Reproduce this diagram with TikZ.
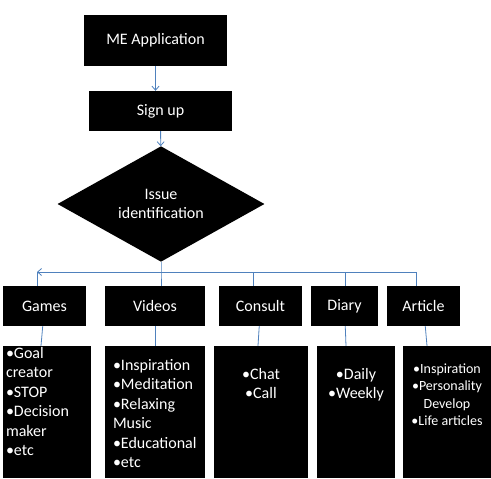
\documentclass[tikz,border=0pt]{standalone}
\usepackage{fontspec}
\setmainfont{Carlito}
\usepackage{tikz}
\usetikzlibrary{shapes.geometric,arrows.meta}
\definecolor{linkblue}{HTML}{4F81BD}

\begin{document}
\begin{tikzpicture}[x=1pt, y=-1pt,
    box/.style={fill=black, text=white, inner sep=0pt, align=center,
      font=\fontsize{16}{19.5}\selectfont},
    listbox/.style={fill=black, inner sep=0pt},
    listtext/.style={text=white, inner sep=0pt,
      font=\fontsize{16}{19.5}\selectfont},
    link/.style={draw=linkblue, line width=0.8pt},
    flow/.style={link, -{Straight Barb[length=4pt, width=7pt]}}]
  \useasboundingbox (0,0) rectangle (491,479);
  % top part
  \node[box, minimum width=143pt, minimum height=51pt] (app)  at (155.5, 40.5) {ME Application};
  \node[box, minimum width=143pt, minimum height=40pt] (sign) at (160.5, 111)  {Sign up};
  \node[box, diamond, minimum width=207pt, minimum height=104pt] (issue) at (161, 204) {Issue\\identification};
  \draw[flow] (app) -- (app |- sign.north);
  \draw[flow] (sign) -- (issue);
  % menu row
  \node[box, minimum width=83pt,  minimum height=40pt] (games)   at (44.5, 306)  {Games};
  \node[box, minimum width=100pt, minimum height=40pt] (videos)  at (155, 306)   {Videos};
  \node[box, minimum width=83pt,  minimum height=40pt] (consult) at (260.5, 306) {Consult};
  \node[box, minimum width=67pt,  minimum height=40pt] (diary)   at (344.5, 306) {Diary};
  \node[box, minimum width=73pt,  minimum height=40pt] (article) at (423.5, 306) {Article};
  % branches
  \coordinate (split)     at (161, 272);
  \coordinate (gamesin)   at (37, 272);
  \coordinate (consultin) at (253, 272);
  \coordinate (diaryin)   at (345, 272);
  \coordinate (articlein) at (416, 272);
  \draw[link] (issue) -- (split) -- (split |- videos.north);
  \draw[flow] (split) -- (gamesin);
  \draw[link] (gamesin) -- (gamesin |- games.north);
  \draw[link] (split) -- (articlein) -- (articlein |- article.north);
  \draw[link] (consultin) -- (consultin |- consult.north);
  \draw[link] (diaryin) -- (diaryin |- diary.north);
  % lists
  \node[listbox, minimum width=88pt,  minimum height=132pt] (gameslist)   at (47, 412)  {};
  \node[listbox, minimum width=100pt, minimum height=132pt] (videoslist)  at (155, 412) {};
  \node[listbox, minimum width=94pt,  minimum height=132pt] (consultlist) at (261, 412) {};
  \node[listbox, minimum width=78pt,  minimum height=132pt] (diarylist)   at (356, 412) {};
  \node[listbox, minimum width=88pt,  minimum height=132pt] (articlelist) at (447, 412) {};
  \node[listtext, anchor=north west, align=left] (gamestext) at ([shift={(3,1)}]gameslist.north west)
    {•Goal\\creator\\•STOP\\•Decision\\maker\\•etc};
  \node[listtext, anchor=north west, align=left] (videostext) at ([shift={(8,13)}]videoslist.north west)
    {•Inspiration\\•Meditation\\•Relaxing\\Music\\•Educational\\•etc};
  \node[listtext, anchor=north, align=center] (consulttext) at ([shift={(0,22)}]consultlist.north)
    {•Chat\\•Call};
  \node[listtext, anchor=north, align=center] (diarytext) at ([shift={(0,22)}]diarylist.north)
    {•Daily\\•Weekly};
  \node[listtext, anchor=north, align=center, font=\fontsize{14}{17.3}\selectfont] (articletext)
    at ([shift={(0,18)}]articlelist.north) {•Inspiration\\•Personality\\Develop\\•Life articles};
  \draw[link] (games) -- ([xshift=-6pt]gameslist.north);
  \draw[link] (videos) -- (videoslist);
  \draw[link] (consult) -- ([xshift=-3pt]consultlist.north);
  \draw[link] (diary) -- ([xshift=-10pt]diarylist.north);
  \draw[link] (article) -- ([xshift=-20pt]articlelist.north);
\end{tikzpicture}
\end{document}
